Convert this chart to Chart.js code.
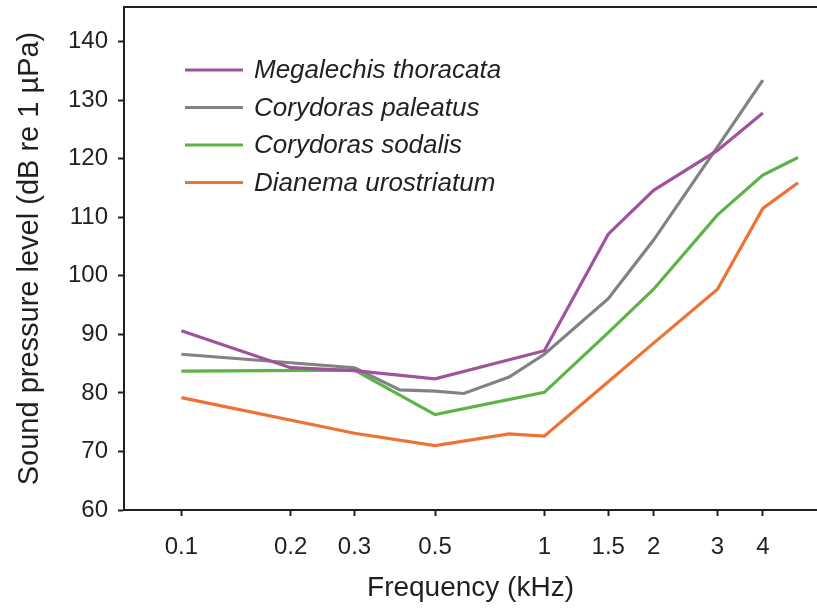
<!DOCTYPE html>
<html>
<head>
<meta charset="utf-8">
<script src="https://cdn.jsdelivr.net/npm/chart.js@4/dist/chart.umd.min.js"></script>
<style>
  body { margin: 0; background: #fff; }
  canvas { display: block; }
</style>
</head>
<body>
<canvas id="chart" width="817" height="609"></canvas>
<script>
// hearing thresholds per species, frequency in kHz, level in dB re 1 µPa
const speciesNames = ['Megalechis thoracata', 'Corydoras paleatus', 'Corydoras sodalis', 'Dianema urostriatum'];
const lineColors = ['#a0529c', '#808285', '#5cb447', '#ee7233'];

const freqMegalechis = [0.1, 0.2, 0.3, 0.5, 1, 1.5, 2, 3, 4];
const splMegalechis  = [90.6, 84.3, 83.8, 82.4, 87.2, 107.1, 114.6, 121.4, 127.8];

const freqPaleatus = [0.1, 0.3, 0.4, 0.5, 0.6, 0.8, 1, 1.5, 2, 3, 4];
const splPaleatus  = [86.6, 84.3, 80.5, 80.3, 79.9, 82.7, 86.6, 96.1, 106.1, 122.0, 133.4];

const freqSodalis = [0.1, 0.3, 0.5, 1, 1.5, 2, 3, 4, 5];
const splSodalis  = [83.7, 83.9, 76.3, 80.1, 90.3, 97.7, 110.4, 117.2, 120.2];

const freqDianema = [0.1, 0.3, 0.5, 0.8, 1, 1.5, 2, 3, 4, 5];
const splDianema  = [79.2, 73.1, 71.0, 73.0, 72.6, 81.9, 88.5, 97.7, 111.5, 115.9];

const xTicks = [0.1, 0.2, 0.3, 0.5, 1, 1.5, 2, 3, 4];
const yTicks = [60, 70, 80, 90, 100, 110, 120, 130, 140];

const ink = '#231f20';
const fontFam = '"Liberation Sans", Arial, sans-serif';

const freqs = [freqMegalechis, freqPaleatus, freqSodalis, freqDianema];
const spls = [splMegalechis, splPaleatus, splSodalis, splDianema];

const datasets = speciesNames.map((name, i) => ({
  label: name,
  data: freqs[i].map((f, j) => ({ x: f, y: spls[i][j] })),
  borderColor: lineColors[i],
  backgroundColor: lineColors[i],
  borderWidth: 3.2,
  pointRadius: 0,
  tension: 0,
  fill: false
}));

// legend in the upper left of the plot + top frame line
const extras = {
  id: 'extras',
  afterDraw(chart) {
    const ctx = chart.ctx;
    const a = chart.chartArea;
    ctx.save();
    ctx.strokeStyle = ink;
    ctx.lineWidth = 2;
    ctx.beginPath();
    ctx.moveTo(a.left - 1, a.top);
    ctx.lineTo(a.right, a.top);
    ctx.stroke();

    ctx.font = 'italic 26px ' + fontFam;
    ctx.textBaseline = 'middle';
    ctx.fillStyle = ink;
    chart.data.datasets.forEach((ds, i) => {
      const y = 70 + i * 37.5;
      ctx.strokeStyle = ds.borderColor;
      ctx.lineWidth = 3;
      ctx.beginPath();
      ctx.moveTo(185, y);
      ctx.lineTo(243, y);
      ctx.stroke();
      ctx.fillText(ds.label, 254, y + 1);
    });
    ctx.restore();
  }
};

new Chart(document.getElementById('chart'), {
  type: 'line',
  data: { datasets },
  options: {
    responsive: false,
    animation: false,
    layout: { padding: { top: 7, right: 0, left: 0, bottom: 0 } },
    plugins: { legend: { display: false }, tooltip: { enabled: false } },
    scales: {
      x: {
        type: 'logarithmic',
        min: 0.0695,
        max: 5.64,
        border: { display: true, color: ink, width: 2 },
        grid: { drawOnChartArea: false, color: ink, tickLength: 6, tickWidth: 2 },
        ticks: {
          autoSkip: false,
          maxRotation: 0,
          color: ink,
          padding: 17,
          font: { family: fontFam, size: 24 },
          callback: v => String(v)
        },
        afterBuildTicks: s => { s.ticks = xTicks.map(v => ({ value: v })); },
        afterFit: s => { s.height = 99; s.paddingLeft = 0; s.paddingRight = 0; },
        title: {
          display: true,
          text: 'Frequency (kHz)',
          color: ink,
          font: { family: fontFam, size: 28 },
          padding: { top: 0, bottom: 4 }
        }
      },
      y: {
        min: 60,
        max: 145.9,
        border: { display: true, color: ink, width: 2 },
        grid: { drawOnChartArea: false, color: ink, tickLength: 6, tickWidth: 2 },
        ticks: {
          color: ink,
          padding: 10,
          font: { family: fontFam, size: 24 }
        },
        afterBuildTicks: s => { s.ticks = yTicks.map(v => ({ value: v })); },
        afterFit: s => { s.width = 124; s.paddingTop = 0; s.paddingBottom = 0; },
        title: {
          display: true,
          text: 'Sound pressure level (dB re 1 µPa)',
          color: ink,
          font: { family: fontFam, size: 29 },
          padding: { top: 13, bottom: 0 }
        }
      }
    }
  },
  plugins: [extras]
});
</script>
</body>
</html>
